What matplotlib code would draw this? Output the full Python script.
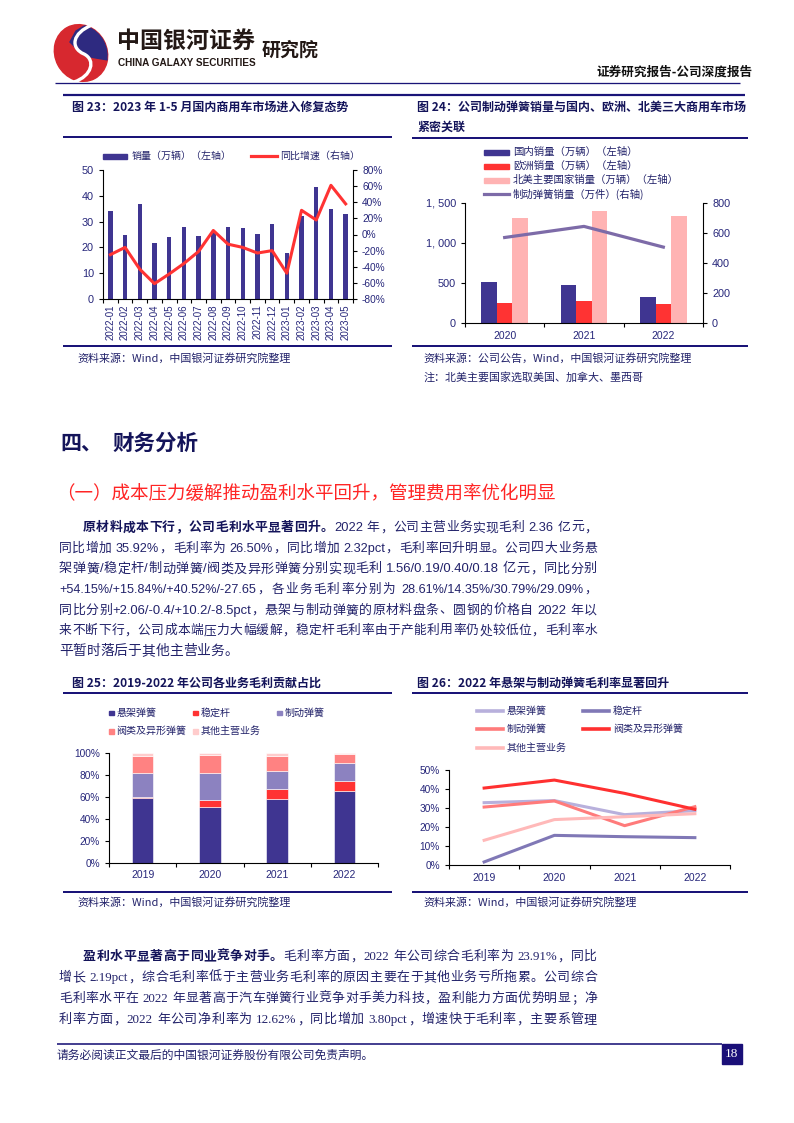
import re
import matplotlib
matplotlib.use("Agg")
from matplotlib import pyplot as plt
from matplotlib.patches import Rectangle, Ellipse, PathPatch, Polygon
from matplotlib.path import Path
import numpy as np

plt.rcParams["font.family"] = ["Noto Sans CJK SC", "DejaVu Sans"]

# ---------------- data ----------------
# fig 23: domestic commercial vehicle sales
months = ["2022-01", "2022-02", "2022-03", "2022-04", "2022-05", "2022-06",
          "2022-07", "2022-08", "2022-09", "2022-10", "2022-11", "2022-12",
          "2023-01", "2023-02", "2023-03", "2023-04", "2023-05"]
sales = [34.3, 24.9, 37.0, 21.6, 23.9, 28.0, 24.5, 26.0, 27.8, 27.4, 25.3, 29.0,
         18.0, 32.2, 43.5, 34.8, 33.0]
yoy = [-25, -16, -43, -61, -49, -36, -21, 5, -12, -16, -23, -20,
       -48, 30, 18, 61, 38]

# fig 24: regional sales vs brake spring volume
years3 = ["2020", "2021", "2022"]
domestic = [510, 476, 326]
europe = [251, 280, 242]
north_america = [1316, 1395, 1333]
brake_volume = [570, 644, 506]

# fig 25: gross profit share by business (%)
years4 = ["2019", "2020", "2021", "2022"]
share_susp = [59.5, 50.6, 58.5, 65.9]
share_stab = [0.5, 6.7, 9.2, 8.2]
share_brake = [21.4, 24.4, 16.1, 16.4]
share_valve = [16.2, 16.5, 13.8, 8.3]
share_other = [2.4, 1.8, 2.4, 1.2]

# fig 26: gross margin by business (%)
gm_susp = [32.8, 33.9, 26.5, 28.6]
gm_stab = [1.6, 15.6, 14.9, 14.4]
gm_brake = [30.5, 33.7, 20.7, 30.7]
gm_valve = [40.5, 44.7, 37.7, 29.3]
gm_other = [13.0, 23.9, 25.4, 27.0]

# ---------------- page setup ----------------
W, H = 794, 1123
NAVY = "#1a1478"
BAR = "#3f3591"
RED = "#ff3333"
TEXT = "#22226a"
TICK = "#26267a"
NUM = ["Liberation Sans", "Noto Sans CJK SC"]
SERIF_NUM = ["Liberation Serif", "Noto Sans CJK SC"]

fig = plt.figure(figsize=(W / 100, H / 100), dpi=100)
pg = fig.add_axes([0, 0, 1, 1])
pg.set_xlim(0, W)
pg.set_ylim(H, 0)
pg.axis("off")
renderer = fig.canvas.get_renderer()


def pt(p):
    # pixel size -> points at 100 dpi
    return p * 0.72


def box(x0, y0, x1, y1):
    return fig.add_axes([x0 / W, 1 - y1 / H, (x1 - x0) / W, (y1 - y0) / H])


def hline(x0, x1, y, lw=2, color=NAVY):
    pg.plot([x0, x1], [y, y], color=color, lw=pt(lw), solid_capstyle="butt")


def txt(x, y, s, size, color=TEXT, weight="normal", ha="left", **kw):
    return pg.text(x, y, s, fontsize=pt(size), color=color, fontweight=weight,
                   ha=ha, va="center", **kw)


def line_of_text(y, x0, x1, parts, size=13.8, justify=True, ascii_font=NUM):
    items = []
    base = y + 0.38 * size
    for s, bold, color in parts:
        for tok in re.findall(r"[!-~]+| |[^ ]", s):
            if tok == " ":
                items.append((None, size * 0.25))
                continue
            fam = ascii_font if re.match(r"[!-~]", tok) else None
            t = pg.text(0, base, tok, fontsize=pt(size), color=color, family=fam,
                        fontweight="bold" if bold else "normal", va="baseline")
            items.append((t, t.get_window_extent(renderer).width))
    total = sum(w for _, w in items)
    room = x1 - x0
    if total > room * 0.97:
        k = room * 0.97 / total
        items = [(t, w * k) for t, w in items]
        for t, _ in items:
            if t is not None:
                t.set_fontsize(t.get_fontsize() * k)
        total = sum(w for _, w in items)
    gap = (room - total) / (len(items) - 1) if justify and len(items) > 1 else 0
    x = x0
    for t, w in items:
        if t is not None:
            t.set_x(x)
        x += w + gap


def style_ax(ax):
    ax.set_facecolor("none")
    ax.spines["top"].set_visible(False)
    for s in ax.spines.values():
        s.set_linewidth(0.8)
    ax.tick_params(length=3, width=0.8, labelcolor=TICK)


# ---------------- header ----------------
outer = Ellipse((81, 53), 52, 58, angle=-28, color="#d7282f")
pg.add_patch(outer)
s_edge = [(86, 25), (76, 31), (70, 42), (78, 50), (86, 56), (96, 58), (108, 60)]
blue = Polygon(s_edge + [(115, 40), (105, 22)], closed=True, color="#2e2a80")
pg.add_patch(blue)
blue.set_clip_path(outer)
s_curve = Path([(92, 25), (72, 33), (70, 48), (84, 54), (96, 60), (92, 76), (74, 82)],
               [Path.MOVETO] + [Path.CURVE4] * 6)
pg.add_patch(PathPatch(s_curve, fill=False, ec="white", lw=2.4))

txt(117, 41, "中国银河证券", 23, color="#231815", weight="bold")
t = txt(118, 62.5, "CHINA GALAXY SECURITIES", 10, color="#231815", weight="bold",
        family=["Liberation Sans Narrow", "Liberation Sans"])
t.set_fontsize(t.get_fontsize() * 138 / t.get_window_extent(renderer).width)
txt(262, 50, "研究院", 19, color="#231815", weight="bold")
txt(753, 72, "证券研究报告-公司深度报告", 12.6, color="#111111", weight="bold", ha="right")
hline(55, 740, 83, lw=1.3)
hline(63, 745, 94.5, lw=2.2)

# ---------------- figure 23 ----------------
txt(72, 107, "图 23：2023 年 1-5 月国内商用车市场进入修复态势", 12, color="#14145a", weight="bold")
hline(63, 392, 137)
hline(63, 392, 346)
pg.add_patch(Rectangle((103, 153.5), 24, 5, color=BAR))
txt(132, 156, "销量（万辆）（左轴）", 10)
pg.plot([251, 277], [156, 156], color=RED, lw=2.3)
txt(280, 156, "同比增速（右轴）", 10)

ax = box(103, 170, 353, 299)
style_ax(ax)
ax.spines["right"].set_visible(False)
x = np.arange(len(months))
ax.bar(x, sales, width=0.3, color=BAR)
ax.set_xlim(-0.5, len(months) - 0.5)
ax.set_ylim(0, 50)
ax.set_yticks(range(0, 51, 10))
ax.set_xticks(x)
ax.set_xticklabels(months, rotation=90, fontsize=7, family=NUM)
ax.set_xticks(np.arange(-0.5, len(months), 1), minor=True)
ax.tick_params(axis="x", which="major", length=0, pad=4)
ax.tick_params(axis="x", which="minor", length=3, width=0.8)
ax.tick_params(axis="y", labelsize=7.8)
for lab in ax.get_yticklabels():
    lab.set_family(NUM)
ax2 = ax.twinx()
style_ax(ax2)
ax2.spines["left"].set_visible(False)
ax2.spines["bottom"].set_visible(False)
ax2.plot(x, yoy, color=RED, lw=2.2)
ax2.set_ylim(-80, 80)
ax2.set_yticks(range(-80, 81, 20))
ax2.set_yticklabels([f"{v}%" for v in range(-80, 81, 20)], fontsize=7.3, family=NUM)
txt(77, 358, "资料来源：Wind，中国银河证券研究院整理", 11)

# ---------------- figure 24 ----------------
txt(417, 107, "图 24：公司制动弹簧销量与国内、欧洲、北美三大商用车市场", 12, color="#14145a", weight="bold")
txt(417, 127, "紧密关联", 12, color="#14145a", weight="bold")
hline(412, 748, 138)
hline(412, 748, 346)
leg24 = [("patch", BAR, "国内销量（万辆）（左轴）"),
         ("patch", RED, "欧洲销量（万辆）（左轴）"),
         ("patch", "#ffb3b3", "北美主要国家销量（万辆）（左轴）"),
         ("line", "#7d6ba8", "制动弹簧销量（万件）(右轴)")]
for i, (kind, c, label) in enumerate(leg24):
    yy = 152 + 14 * i
    if kind == "patch":
        pg.add_patch(Rectangle((484, yy - 2.5), 25, 5, color=c))
    else:
        pg.plot([484, 509], [yy, yy], color=c, lw=2.3)
    txt(513, yy, label, 10.4)

ax = box(465, 203, 703, 323)
style_ax(ax)
ax.spines["right"].set_visible(False)
x3 = np.arange(len(years3))
bw = 0.195
ax.bar(x3 - bw, domestic, width=bw, color=BAR)
ax.bar(x3, europe, width=bw, color=RED)
ax.bar(x3 + bw, north_america, width=bw, color="#ffb3b3")
ax.set_xlim(-0.5, 2.5)
ax.set_ylim(0, 1500)
ax.set_yticks([0, 500, 1000, 1500])
ax.set_yticklabels(["0", "500", "1, 000", "1, 500"], fontsize=7.8, family=NUM)
ax.set_xticks(x3)
ax.set_xticklabels(years3, fontsize=7.5, family=NUM)
ax.set_xticks(np.arange(-0.5, 3, 1), minor=True)
ax.tick_params(axis="x", which="major", length=0, pad=6)
ax.tick_params(axis="x", which="minor", length=3, width=0.8)
ax2 = ax.twinx()
style_ax(ax2)
ax2.spines["left"].set_visible(False)
ax2.spines["bottom"].set_visible(False)
ax2.plot(x3, brake_volume, color="#7d6ba8", lw=2.3)
ax2.set_ylim(0, 800)
ax2.set_yticks(range(0, 801, 200))
ax2.set_yticklabels([str(v) for v in range(0, 801, 200)], fontsize=7.8, family=NUM)
txt(423, 358, "资料来源：公司公告，Wind，中国银河证券研究院整理", 11)
txt(423, 377, "注：北美主要国家选取美国、加拿大、墨西哥", 11)

# ---------------- section text ----------------
txt(60, 443, "四、", 21, color="#14145a", weight="bold")
txt(112, 443, "财务分析", 21.5, color="#14145a", weight="bold")
txt(56, 493, "（一）成本压力缓解推动盈利水平回升，管理费用率优化明显", 18.5, color="#ff2525")

para1 = [
    [("原材料成本下行，公司毛利水平显著回升。", True, "#14145a"),
     ("2022 年，公司主营业务实现毛利 2.36 亿元，", False, TEXT)],
    [("同比增加 35.92%，毛利率为 26.50%，同比增加 2.32pct，毛利率回升明显。公司四大业务悬", False, TEXT)],
    [("架弹簧/稳定杆/制动弹簧/阀类及异形弹簧分别实现毛利 1.56/0.19/0.40/0.18 亿元，同比分别", False, TEXT)],
    [("+54.15%/+15.84%/+40.52%/-27.65，各业务毛利率分别为 28.61%/14.35%/30.79%/29.09%，", False, TEXT)],
    [("同比分别+2.06/-0.4/+10.2/-8.5pct，悬架与制动弹簧的原材料盘条、圆钢的价格自 2022 年以", False, TEXT)],
    [("来不断下行，公司成本端压力大幅缓解，稳定杆毛利率由于产能利用率仍处较低位，毛利率水", False, TEXT)],
    [("平暂时落后于其他主营业务。", False, TEXT)],
]
for i, parts in enumerate(para1):
    x0 = 83 if i == 0 else 59
    line_of_text(526 + 20.6 * i, x0, 597, parts, justify=i < len(para1) - 1)

para2 = [
    [("盈利水平显著高于同业竞争对手。", True, "#14145a"),
     ("毛利率方面，2022 年公司综合毛利率为 23.91%，同比", False, TEXT)],
    [("增长 2.19pct，综合毛利率低于主营业务毛利率的原因主要在于其他业务亏所拖累。公司综合", False, TEXT)],
    [("毛利率水平在 2022 年显著高于汽车弹簧行业竞争对手美力科技，盈利能力方面优势明显；净", False, TEXT)],
    [("利率方面，2022 年公司净利率为 12.62%，同比增加 3.80pct，增速快于毛利率，主要系管理", False, TEXT)],
]
for i, parts in enumerate(para2):
    x0 = 83 if i == 0 else 59
    line_of_text(955 + 21 * i, x0, 597, parts, size=13.5, ascii_font=SERIF_NUM)

# ---------------- figure 25 ----------------
txt(72, 683, "图 25：2019-2022 年公司各业务毛利贡献占比", 12, color="#14145a", weight="bold")
hline(63, 392, 693)
hline(63, 392, 892)
c25 = ["#3f3591", "#ff3333", "#8c82c0", "#ff8282", "#ffcccc"]
leg25 = [(109, 713, "悬架弹簧"), (193, 713, "稳定杆"), (277, 713, "制动弹簧"),
         (109, 731.3, "阀类及异形弹簧"), (193, 731.3, "其他主营业务")]
for (lx, ly, label), c in zip(leg25, c25):
    pg.add_patch(Rectangle((lx, ly - 2.2), 4.5, 4.5, color=c))
    txt(lx + 7.5, ly, label, 10)

ax = box(109, 753, 378, 863)
style_ax(ax)
ax.spines["right"].set_visible(False)
x4 = np.arange(len(years4))
bottom = np.zeros(len(years4))
for vals, c in zip([share_susp, share_stab, share_brake, share_valve, share_other], c25):
    ax.bar(x4, vals, bottom=bottom, width=0.32, color=c, edgecolor="white", linewidth=0.4)
    bottom += np.array(vals)
ax.set_xlim(-0.5, 3.5)
ax.set_ylim(0, 100)
ax.set_yticks(range(0, 101, 20))
ax.set_yticklabels([f"{v}%" for v in range(0, 101, 20)], fontsize=7.3, family=NUM)
ax.set_xticks(x4)
ax.set_xticklabels(years4, fontsize=7.5, family=NUM)
ax.set_xticks(np.arange(-0.5, 4, 1), minor=True)
ax.tick_params(axis="x", which="major", length=0, pad=5)
ax.tick_params(axis="x", which="minor", length=3, width=0.8)
txt(77, 902, "资料来源：Wind，中国银河证券研究院整理", 11)

# ---------------- figure 26 ----------------
txt(417, 683, "图 26：2022 年悬架与制动弹簧毛利率显著回升", 12, color="#14145a", weight="bold")
hline(412, 748, 693)
hline(412, 748, 892)
series26 = [(gm_susp, "#b8b0dc", "悬架弹簧"), (gm_stab, "#8078b6", "稳定杆"),
            (gm_brake, "#ff7b7b", "制动弹簧"), (gm_valve, "#ff3030", "阀类及异形弹簧"),
            (gm_other, "#ffb9b9", "其他主营业务")]
pos26 = [(477, 710.7), (583, 710.7), (477, 729.3), (583, 729.3), (477, 748.3)]
for (vals, c, label), (lx, ly) in zip(series26, pos26):
    pg.plot([lx, lx + 26], [ly, ly], color=c, lw=2.6)
    txt(lx + 30, ly, label, 10)

ax = box(449, 770, 730, 865)
style_ax(ax)
ax.spines["right"].set_visible(False)
for vals, c, label in series26:
    ax.plot(x4, vals, color=c, lw=2.2)
ax.set_xlim(-0.5, 3.5)
ax.set_ylim(0, 50)
ax.set_yticks(range(0, 51, 10))
ax.set_yticklabels([f"{v}%" for v in range(0, 51, 10)], fontsize=7.3, family=NUM)
ax.set_xticks(x4)
ax.set_xticklabels(years4, fontsize=7.5, family=NUM)
ax.set_xticks(np.arange(-0.5, 4, 1), minor=True)
ax.tick_params(axis="x", which="major", length=0, pad=6)
ax.tick_params(axis="x", which="minor", length=3, width=0.8)
txt(423, 902, "资料来源：Wind，中国银河证券研究院整理", 11)

# ---------------- footer ----------------
hline(57, 722, 1044, lw=1.6)
pg.add_patch(Rectangle((722, 1043.5), 19.5, 20, color="#1a0f78"))
pg.text(731.8, 1054, "18", fontsize=9.5, color="white", ha="center", va="center",
        family=["Liberation Serif"])
txt(57, 1055.5, "请务必阅读正文最后的中国银河证券股份有限公司免责声明。", 11.8)

fig.savefig("out.png", dpi=100)
